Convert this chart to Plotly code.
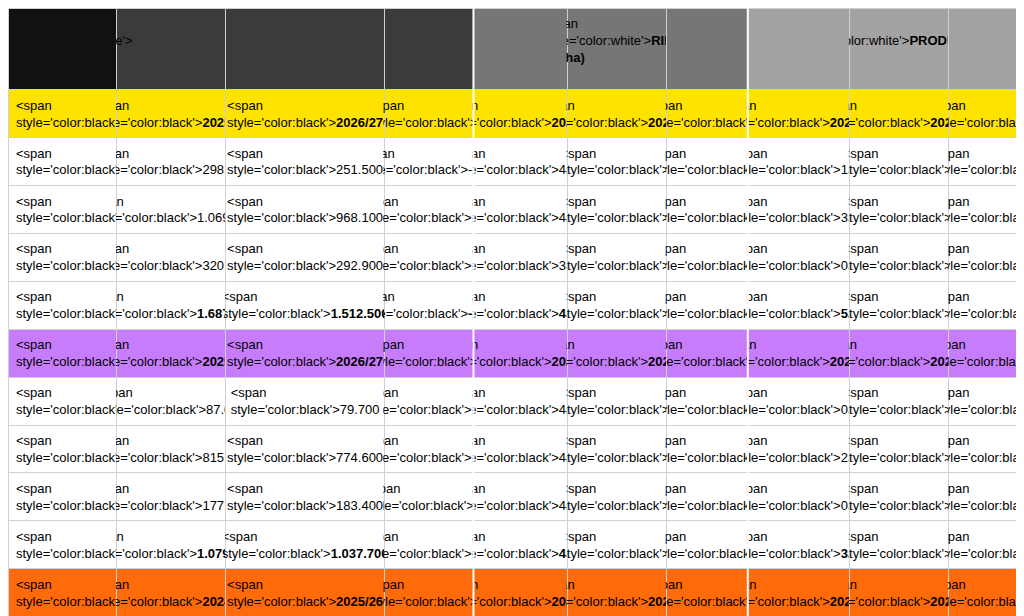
import plotly.graph_objects as go

HDR = "#3b3b3b"
HDR2 = "#767676"
HDR3 = "#a3a3a3"

crop_colors = {"TRIGO": "#ffe300", "CEBADA": "#c77dfb", "MAÍZ": "#ff6a0a",
               "GIRASOL": "#1670c9", "SOJA": "#18a23c"}
crop_text = {"TRIGO": "black", "CEBADA": "black", "MAÍZ": "black",
             "GIRASOL": "white", "SOJA": "white"}

regions = ["NORTE", "CENTRO", "SUR", "TOTAL"]

trigo = [["298.600", "251.500", "-16%", "4.800", "-", "-", "1.13", "-", "-"],
         ["1.069.100", "968.100", "-9%", "4.300", "-", "-", "3.28", "-", "-"],
         ["320.100", "292.900", "-8%", "3.000", "-", "-", "0.73", "-", "-"],
         ["1.687.800", "1.512.500", "-10%", "4.100", "-", "-", "5.12", "-", "-"]]
cebada = [["87.000", "79.700", "-8%", "4.500", "-", "-", "0.34", "-", "-"],
          ["815.300", "774.600", "-5%", "4.300", "-", "-", "2.63", "-", "-"],
          ["177.500", "183.400", "3%", "4.200", "-", "-", "0.63", "-", "-"],
          ["1.079.800", "1.037.700", "-4%", "4.700", "-", "-", "3.61", "-", "-"]]
maiz = [["791.000.000", "803.700.000", "1%", "7.200", "-", "-", "3.94", "-", "-"],
        ["1.141.000.000", "1.167.100.000", "0%", "5.400", "-", "-", "4.09", "-", "-"],
        ["271.000.000", "275.400.000", "2%", "3.300", "-", "-", "0.64", "-", "-"],
        ["2.203.000.000", "2.243.200.000", "2%", "5.900", "-", "-", "8.68", "-", "-"]]
girasol = [["218.100", "218.500", "0%", "2.500", "2.700", "8%", "0.55", "0.60", "9%"],
           ["604.700", "675.000", "12%", "2.000", "2.100", "5%", "1.12", "1.43", "27%"],
           ["76.800", "85.500", "11%", "1.500", "1.800", "20%", "0.11", "0.15", "43%"],
           ["899.600", "979.000", "9%", "2.100", "2.200", "5%", "1.85", "2.18", "17%"]]
soja = [["1.104.000", "1.154.000", "5%", "3.500", "3.700", "6%", "3.8", "4.4", "16%"],
        ["951.000", "955.000", "-1%", "2.300", "2.400", "-8%", "2.5", "2.2", "-12%"],
        ["34.000", "28.000", "-18%", "1.800", "1.900", "6%", "0.1", "0.1", "0%"],
        ["2.089.000", "2.138.000", "2%", "3.100", "3.100", "0%", "6.4", "6.7", "5%"]]

blocks = [("TRIGO", ("2025/26", "2026/27"), trigo),
          ("CEBADA", ("2025/26", "2026/27"), cebada),
          ("MAÍZ", ("2024/25", "2025/26"), maiz),
          ("GIRASOL", ("2024/25", "2025/26"), girasol),
          ("SOJA", ("2024/25", "2025/26"), soja)]

rows, fills = [], []
PAD = "\u00a0" * 30


def col(txt, color, bold=False, size=None):
    if txt == "":
        return ""
    style = "color:%s" % color
    if size:
        style += ";font-size:%dpx" % size
    t = "<b>%s</b>" % txt if bold else txt
    return "<span style='%s'>%s</span>" % (style, t)


def section_header(title):
    texts = ["", PAD + title, "", "", "", "RINDE (kg/ha)", "", "", "PRODUCCIÓN (M tn)", ""]
    rows.append([col(t, "white", True) for t in texts])
    fills.append(["#111111"] + [HDR] * 3 + [HDR2] * 3 + [HDR3] * 3)


for i, (crop, (y1, y2), data) in enumerate(blocks):
    if i == 0:
        section_header("SUPERFICIE SEMBRADA (ha)")
    if i == 3:
        section_header("SUPERFICIE COSECHADA (ha)")
    c, tc = crop_colors[crop], crop_text[crop]
    rows.append([col(crop, tc, True, 16)] + [col(v, tc, True) for v in (y1, y2, "%") * 3])
    fills.append([c] * 10)
    for r, vals in zip(regions, data):
        b = r == "TOTAL"
        rows.append([col(r, "black", b)] + [col(v, "black", b) for v in vals])
        fills.append(["white"] * 10)


def cols(m):
    return [list(c) for c in zip(*m)]


widths = [110, 110, 160, 90, 95, 100, 82, 103, 100, 84]
row_h = 616 / len(rows)

fig = go.Figure(go.Table(
    columnwidth=widths,
    header=dict(values=[""] * 10, height=0, fill_color="white", line_width=0),
    cells=dict(values=cols(rows), fill_color=cols(fills),
               font=dict(family="Liberation Sans, Arial", color="black", size=13),
               line=dict(color="#d0d0d0", width=1),
               align=["left"] + ["center"] * 9, height=row_h),
))

fig.update_layout(width=1024, height=616, margin=dict(l=0, r=0, t=0, b=0),
                  paper_bgcolor="white",
                  shapes=[dict(type="line", xref="paper", yref="paper", x0=x, x1=x, y0=0, y1=1,
                               line=dict(color="white", width=2))
                          for x in (sum(widths[:4]) / sum(widths), sum(widths[:7]) / sum(widths))])

fig.write_html("out.html")
